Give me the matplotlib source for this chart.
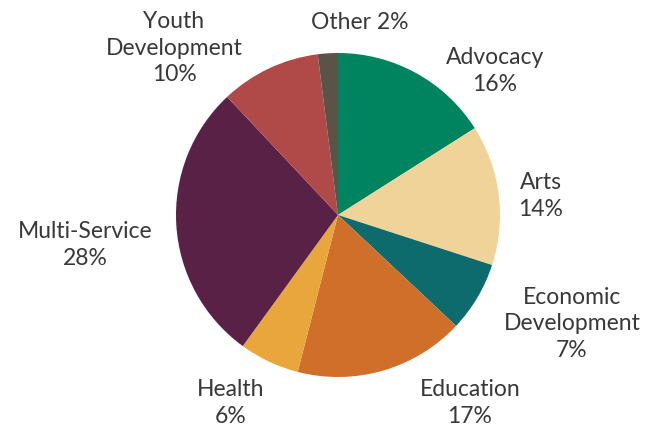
import matplotlib.pyplot as plt

categories = ['Advocacy', 'Arts', 'Economic\nDevelopment', 'Education', 'Health',
              'Multi-Service', 'Youth\nDevelopment', 'Other']
shares = [16, 14, 7, 17, 6, 28, 10, 2]
colors = ['#00845f', '#f0d399', '#0e6b6d', '#d06f29', '#e9a63c',
          '#5a2146', '#b04a48', '#5a5448']

# label positions in pixel space (x, y from top)
label_pos = [(495, 71), (541, 196), (572, 324), (470, 403), (231, 403),
             (85, 245), (174, 48), (360, 22)]

W, H = 651, 428
fig = plt.figure(figsize=(W / 100, H / 100), dpi=100)
ax = fig.add_axes([0, 0, 1, 1])
ax.pie(shares, colors=colors, startangle=90, counterclock=False,
       center=(338, H - 215), radius=162)
ax.set_xlim(0, W)
ax.set_ylim(0, H)
ax.set_aspect('equal')
ax.axis('off')

for cat, val, (px, py) in zip(categories, shares, label_pos):
    if cat == 'Other':
        txt = f'{cat} {val}%'
    else:
        txt = f'{cat}\n{val}%'
    ax.text(px, H - py, txt, ha='center', va='center', fontsize=16.5,
            family='Lato', color='#383838', linespacing=1.3)

fig.savefig('out.png', dpi=100)
